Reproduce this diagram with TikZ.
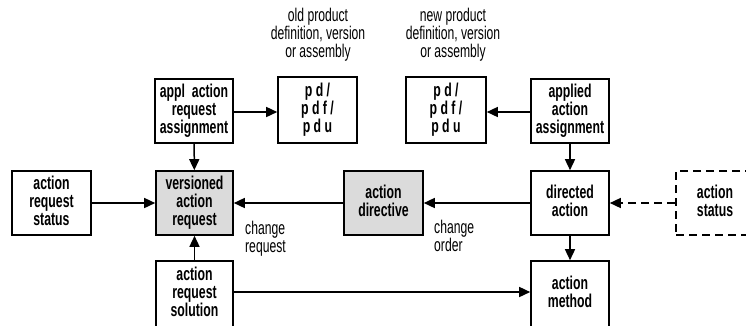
\documentclass[tikz,border=0pt]{standalone}
\usepackage{fontspec}
\setmainfont{Liberation Sans}
\newfontfamily\tallfont[FakeStretch=0.66]{Liberation Sans}
\usetikzlibrary{arrows.meta}
\tikzset{
  box/.style={draw, line width=1.6pt, minimum width=78pt, minimum height=64pt, inner sep=0pt, align=center, font=\tallfont\bfseries\fontsize{18.6}{18}\selectfont, execute at begin node=\strut, execute at end node=\strut},
  grey/.style={fill=black!14},
  dbox/.style={box, dashed, dash pattern=on 8pt off 5pt},
  conn/.style={line width=1.5pt, -{Triangle[length=11pt,width=10pt]}},
  lbl/.style={align=center, inner sep=0pt, font=\tallfont\fontsize{18.4}{18}\selectfont},
  llbl/.style={align=left, inner sep=0pt, font=\tallfont\fontsize{18.4}{18}\selectfont, anchor=north west},
}
\begin{document}
\begin{tikzpicture}[x=1pt,y=-1pt]
\useasboundingbox (0,0) rectangle (746,325);
\node[box] (aras) at (194,111) {appl~~action\\request\\assignment};
\node[box, minimum height=66pt, minimum width=79pt] (pduL) at (317.5,110) {p d /\\p d f /\\p d u};
\node[box, minimum width=79pt] (ars) at (51.5,203) {action\\request\\status};
\node[box, grey, minimum width=77pt] (var) at (194.5,203) {versioned\\action\\request};
\node[box, minimum width=77pt, minimum height=66pt] (arsol) at (194.5,294) {action\\request\\solution};
\node[box, grey, minimum width=79pt] (ad) at (383.5,203) {action\\directive};
\node[box, minimum height=66pt, minimum width=80pt] (pduR) at (446,110) {p d /\\p d f /\\p d u};
\node[box] (aaa) at (570,111) {applied\\action\\assignment};
\node[box] (da) at (570,203) {directed\\action};
\node[dbox] (as) at (715,203) {action\\status};
\node[box, minimum height=66pt] (am) at (570,294) {action\\method};

\node[lbl] (oldt) at (318,35) {old product\\definition, version\\or assembly};
\node[lbl] (newt) at (453,35) {new product\\definition, version\\or assembly};
\node[llbl] (cr) at (245,221) {change\\request};
\node[llbl] (co) at (434,220) {change\\order};

\draw[conn] (aras.east |- 0,112) -- (pduL.west |- 0,112);
\draw[conn] (aaa.west |- 0,112) -- (pduR.east |- 0,112);
\draw[conn] (aras) -- (var);
\draw[conn] (ars) -- (var);
\draw[conn] (ad) -- (var);
\draw[conn] (arsol) -- (var);
\draw[conn] (aaa) -- (da);
\draw[conn] (da) -- (ad);
\draw[conn, dashed, dash pattern=on 8pt off 5pt] (as) -- (da);
\draw[conn] (da) -- (am);
\draw[conn] (arsol.east |- 0,292) -- (am.west |- 0,292);
\end{tikzpicture}
\end{document}
